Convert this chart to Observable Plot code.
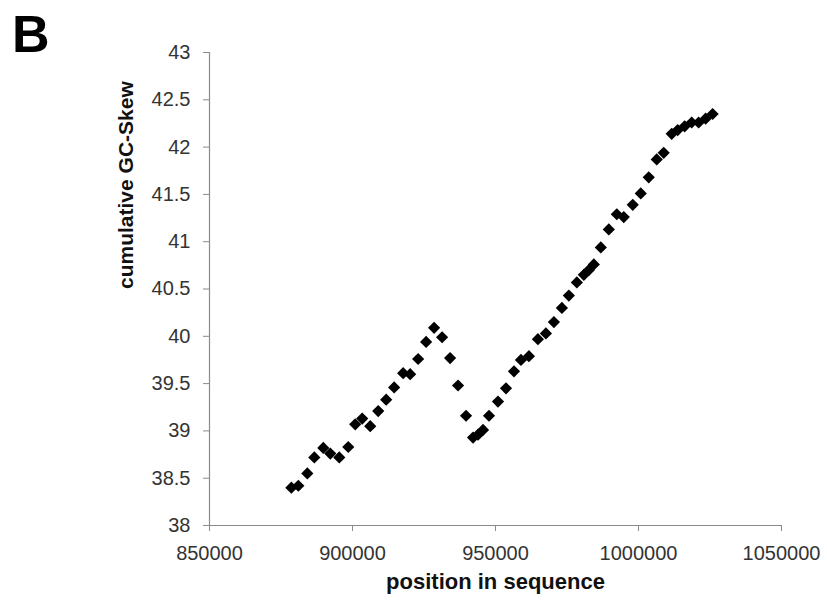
<!DOCTYPE html>
<html>
<head>
<meta charset="utf-8">
<script src="https://cdn.jsdelivr.net/npm/d3@7"></script>
<script src="https://cdn.jsdelivr.net/npm/@observablehq/plot@0.6"></script>
<style>
  html, body { margin: 0; padding: 0; background: #fff; }
  #wrap { position: relative; width: 827px; height: 600px; }
  #panel { position: absolute; left: 12px; top: 8px; font: bold 52px "Liberation Sans", Arial, sans-serif; line-height: 1; color: #000; }
</style>
</head>
<body>
<div id="wrap">
  <div id="chart"></div>
  <div id="panel">B</div>
</div>
<script>
// position in sequence (x) and cumulative GC-skew (y)
const positions = [
  878620, 881060, 884200, 886650, 889790, 892230, 895380, 898520, 900960, 903400,
  906200, 908990, 911780, 914570, 917710, 920160, 922950, 925740, 928530, 931330,
  934120, 936910, 939700, 942150, 943890, 945640, 947730, 950870, 953670, 956460,
  958900, 961690, 964830, 967630, 970420, 973210, 975650, 978450, 980890, 982640,
  984380, 986820, 989620, 992410, 994850, 997990, 1000790, 1003580, 1006370, 1008810,
  1011610, 1013700, 1016140, 1018590, 1021030, 1023470, 1025920
];
const skew = [
  38.40, 38.42, 38.55, 38.72, 38.82, 38.76, 38.72, 38.83, 39.07, 39.13,
  39.05, 39.21, 39.33, 39.46, 39.61, 39.60, 39.76, 39.94, 40.09, 39.99,
  39.77, 39.48, 39.16, 38.93, 38.96, 39.01, 39.16, 39.31, 39.45, 39.63,
  39.75, 39.79, 39.97, 40.03, 40.15, 40.30, 40.43, 40.57, 40.65, 40.70,
  40.76, 40.94, 41.13, 41.29, 41.26, 41.39, 41.51, 41.68, 41.87, 41.94,
  42.14, 42.18, 42.22, 42.26, 42.26, 42.30, 42.35
];
const xTicks = [850000, 900000, 950000, 1000000, 1050000];
const yTicks = [38, 38.5, 39, 39.5, 40, 40.5, 41, 41.5, 42, 42.5, 43];
const xLabel = "position in sequence";
const yLabel = "cumulative GC-Skew";

const data = positions.map((p, i) => ({pos: p, skew: skew[i]}));
const axisColor = "#8a8a8a";
const font = "'Liberation Sans', Arial, sans-serif";

const chart = Plot.plot({
  width: 827,
  height: 600,
  marginLeft: 209,
  marginRight: 46,
  marginTop: 52,
  marginBottom: 75,
  style: {fontFamily: font, fontSize: "20px", color: "#333", background: "#fff"},
  x: {domain: [850000, 1050000]},
  y: {domain: [38, 43]},
  marks: [
    Plot.ruleX([850000], {stroke: axisColor, strokeWidth: 1.2}),
    Plot.ruleY([38], {stroke: axisColor, strokeWidth: 1.2}),
    Plot.axisX({ticks: xTicks, tickFormat: d3.format("d"), tickSize: 6, tickPadding: 14, stroke: axisColor, fontSize: 20, label: null}),
    Plot.axisY({ticks: yTicks, tickFormat: d => String(d), tickSize: 6, tickPadding: 13, stroke: axisColor, fontSize: 20, label: null}),
    Plot.dot(data, {x: "pos", y: "skew", symbol: "diamond2", r: 5.5, fill: "#000", stroke: null}),
    Plot.text([xLabel], {frameAnchor: "bottom", lineAnchor: "bottom", dy: 63, text: d => d, fontWeight: "bold", fontSize: 22, fill: "#111"}),
    Plot.text([yLabel], {frameAnchor: "left", rotate: -90, lineAnchor: "middle", dx: -83, text: d => d, fontWeight: "bold", fontSize: 21, fill: "#111"})
  ]
});
document.getElementById("chart").appendChild(chart);
</script>
</body>
</html>
